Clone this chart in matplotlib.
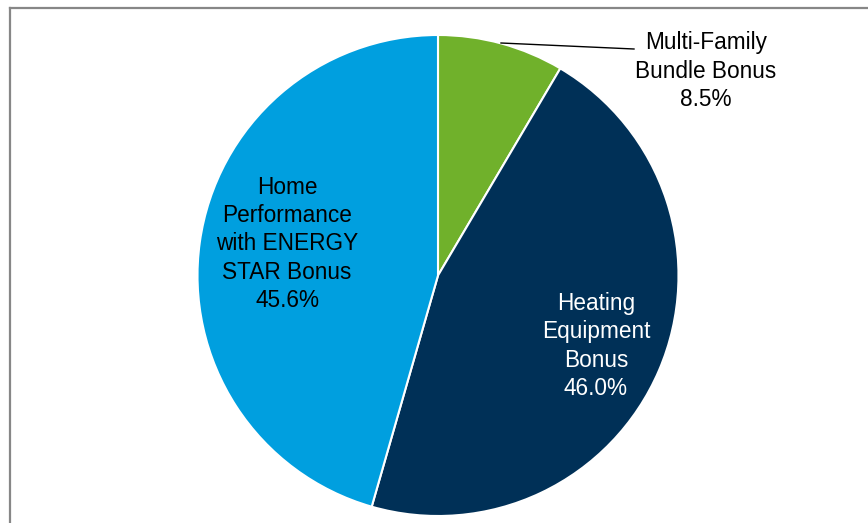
import matplotlib.pyplot as plt
from matplotlib.lines import Line2D

# slice data (clockwise from 12 o'clock)
categories = ["Multi-Family\nBundle Bonus", "Heating\nEquipment\nBonus",
              "Home\nPerformance\nwith ENERGY\nSTAR Bonus"]
shares = [8.5, 46.0, 45.6]
colors = ["#70B12B", "#003057", "#009FDF"]
text_colors = ["black", "white", "black"]

W, H = 868, 523
plt.rcParams['font.family'] = ['Liberation Sans', 'DejaVu Sans']

fig = plt.figure(figsize=(W / 100, H / 100), dpi=100)
ax = fig.add_axes([0, 0, 1, 1])
ax.set_xlim(0, W)
ax.set_ylim(0, H)
ax.set_aspect("equal")
ax.axis("off")

cx, cy, r = 438, H - 275.5, 240.5
wedges, _ = ax.pie(shares, colors=colors, startangle=90, counterclock=False,
                   center=(cx, cy), radius=r, normalize=True,
                   wedgeprops=dict(edgecolor="white", linewidth=1.5))
ax.set_xlim(0, W)
ax.set_ylim(0, H)

# label positions in pixels (from top-left)
label_pos = [(706, 71), (596, 346), (287, 244)]
for cat, val, (lx, ly), tc in zip(categories, shares, label_pos, text_colors):
    ax.text(lx, H - ly, f"{cat}\n{val:.1f}%", ha="center", va="center",
            fontsize=16.3, color=tc, linespacing=1.29)

# leader line for the small slice
ax.plot([501, 634], [H - 43, H - 49], color="black", lw=1)

# chart frame (left and top edges visible)
fig.add_artist(Line2D([9.5 / W, 9.5 / W], [0, 1 - 8 / H], color="#878787", lw=1.6,
                      transform=fig.transFigure, solid_capstyle="projecting"))
fig.add_artist(Line2D([9.5 / W, 1], [1 - 8 / H, 1 - 8 / H], color="#878787", lw=1.6,
                      transform=fig.transFigure, solid_capstyle="projecting"))

fig.savefig("out.png", dpi=100, facecolor="white")
